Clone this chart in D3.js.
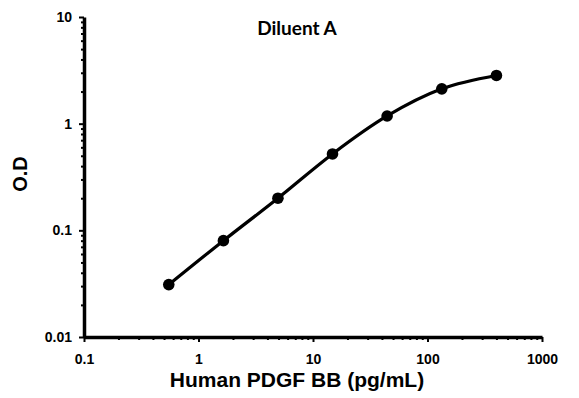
<!DOCTYPE html>
<html><head><meta charset="utf-8">
<script src="https://cdn.jsdelivr.net/npm/d3@7"></script>
<style>body{margin:0;background:#fff}svg{display:block}</style>
</head><body>
<svg id="c" width="579" height="398"></svg>
<script>
const concentrations = [0.55, 1.65, 4.94, 14.8, 44.4, 133.3, 400];
const odValues = [0.031, 0.080, 0.20, 0.52, 1.18, 2.12, 2.83];
const xTickLabels = [0.1, 1, 10, 100, 1000];
const yTickLabels = [0.01, 0.1, 1, 10];
const title = "Diluent A";
const xTitle = "Human PDGF BB (pg/mL)";
const yTitle = "O.D";

const svg = d3.select("#c");
const x = d3.scaleLog().domain([0.1, 1000]).range([84, 542]);
const y = d3.scaleLog().domain([0.01, 10]).range([337, 17]);

function minors(domain){const out=[];for(let e=Math.log10(domain[0]);e<Math.log10(domain[1]);e++){for(let m=2;m<=9;m++)out.push(m*Math.pow(10,e));}return out;}

// minor ticks
svg.append("g").attr("transform","translate(84,0)")
  .call(d3.axisLeft(y).tickValues(minors([0.01,10])).tickSize(3).tickFormat(""))
  .call(g=>{g.select(".domain").remove();g.selectAll("line").attr("stroke","#000").attr("stroke-width",2);});
svg.append("g").attr("transform","translate(0,337)")
  .call(d3.axisBottom(x).tickValues(minors([0.1,1000])).tickSize(3).tickFormat(""))
  .call(g=>{g.select(".domain").remove();g.selectAll("line").attr("stroke","#000").attr("stroke-width",2);});

// major axes
const yAxis = svg.append("g").attr("transform","translate(84,0)")
  .call(d3.axisLeft(y).tickValues(yTickLabels).tickSize(5).tickSizeOuter(0).tickPadding(7).tickFormat(d=>String(d)));
const xAxis = svg.append("g").attr("transform","translate(0,337)")
  .call(d3.axisBottom(x).tickValues(xTickLabels).tickSize(5).tickSizeOuter(0).tickPadding(12).tickFormat(d=>String(d)));
[yAxis,xAxis].forEach(g=>{
  g.select(".domain").attr("stroke","#000").attr("stroke-width",3.5);
  g.selectAll("line").attr("stroke","#000").attr("stroke-width",2);
  g.selectAll("text").attr("fill","#000").style("font-family","'Liberation Sans', Arial, sans-serif").style("font-weight","bold").style("font-size","14px");
});

// curve
const line = d3.line().x((d,i)=>x(concentrations[i])).y(d=>y(d)).curve(d3.curveMonotoneX);
svg.append("path").datum(odValues).attr("d",line).attr("fill","none").attr("stroke","#000").attr("stroke-width",3.2);
svg.append("g").selectAll("circle").data(odValues).join("circle")
  .attr("cx",(d,i)=>x(concentrations[i])).attr("cy",d=>y(d)).attr("r",5.8).attr("fill","#000");

// titles
svg.append("text").attr("x",297).attr("y",35).attr("text-anchor","middle")
  .style("font-family","Lato, 'Open Sans', sans-serif").style("font-weight","bold").style("font-size","19px").text(title);
svg.append("text").attr("x",297).attr("y",387).attr("text-anchor","middle")
  .style("font-family","'Liberation Sans', Arial, sans-serif").style("font-weight","bold").style("font-size","21px").text(xTitle);
svg.append("text").attr("transform","translate(27,174) rotate(-90)").attr("text-anchor","middle")
  .style("font-family","'Liberation Sans', Arial, sans-serif").style("font-weight","bold").style("font-size","20px").text(yTitle);
</script>
</body></html>
